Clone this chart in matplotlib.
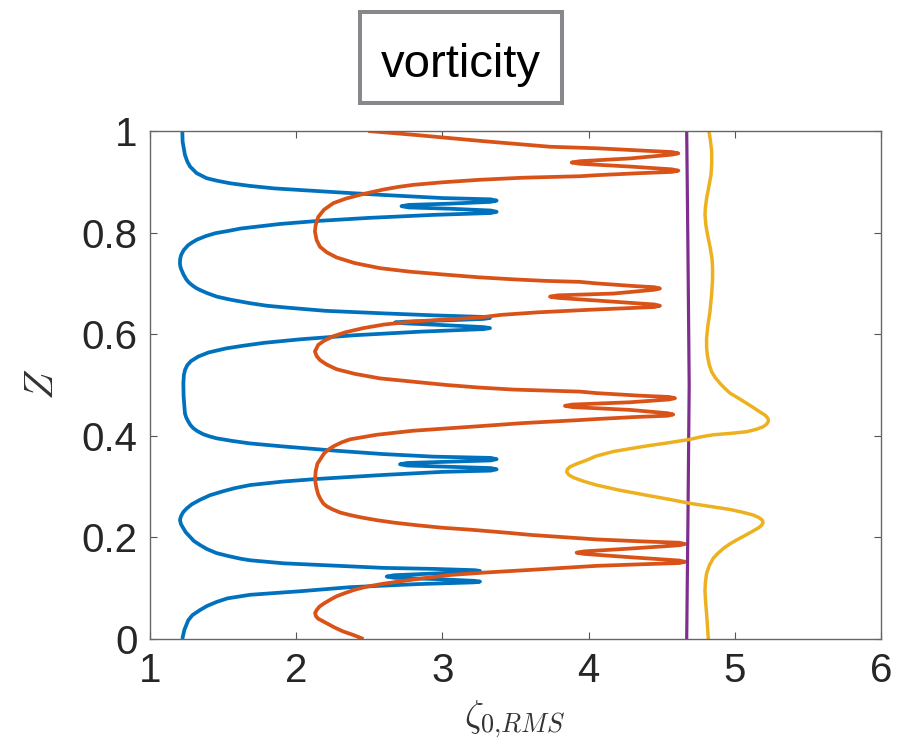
import matplotlib
matplotlib.use("Agg")
import matplotlib.pyplot as plt
from matplotlib.patches import Rectangle

# vertical profiles, (Z, zeta_rms) pairs, top to bottom
blue = [
    (1.000, 1.221), (0.979, 1.223), (0.953, 1.239), (0.940, 1.255), (0.930, 1.274),
    (0.917, 1.319), (0.907, 1.388), (0.902, 1.460), (0.897, 1.550), (0.892, 1.680),
    (0.887, 1.850), (0.879, 2.300), (0.874, 2.600), (0.868, 3.000), (0.8655, 3.330),
    (0.863, 3.371), (0.8605, 3.330), (0.857, 3.050), (0.8545, 2.770), (0.852, 2.720),
    (0.8495, 2.770), (0.847, 3.050), (0.8435, 3.330), (0.841, 3.371), (0.8385, 3.330),
    (0.835, 2.950), (0.829, 2.500), (0.823, 2.150), (0.817, 1.889), (0.812, 1.740),
    (0.808, 1.620), (0.803, 1.530), (0.799, 1.450), (0.793, 1.380), (0.786, 1.320),
    (0.780, 1.285), (0.775, 1.260), (0.770, 1.245), (0.766, 1.232), (0.760, 1.220),
    (0.755, 1.212), (0.749, 1.207), (0.743, 1.205), (0.738, 1.205), (0.733, 1.208),
    (0.728, 1.213), (0.723, 1.221), (0.718, 1.228), (0.713, 1.238), (0.708, 1.248),
    (0.703, 1.262), (0.699, 1.277), (0.695, 1.295), (0.691, 1.315), (0.687, 1.342),
    (0.681, 1.390), (0.674, 1.456), (0.668, 1.550), (0.661, 1.684), (0.656, 1.800),
    (0.652, 1.950), (0.646, 2.200), (0.641, 2.600), (0.637, 2.950), (0.634, 3.280),
    (0.632, 3.326), (0.630, 3.280), (0.627, 3.000), (0.6245, 2.730), (0.623, 2.676),
    (0.6215, 2.730), (0.618, 3.000), (0.614, 3.280), (0.612, 3.326), (0.610, 3.280),
    (0.605, 2.850), (0.598, 2.400), (0.590, 2.030), (0.583, 1.780), (0.577, 1.630),
    (0.572, 1.520), (0.564, 1.400), (0.556, 1.330), (0.547, 1.280), (0.539, 1.255),
    (0.530, 1.240), (0.520, 1.232), (0.503, 1.228), (0.477, 1.230), (0.444, 1.239),
    (0.436, 1.248), (0.428, 1.262), (0.421, 1.277), (0.415, 1.296), (0.409, 1.325),
    (0.403, 1.365), (0.399, 1.405), (0.395, 1.456), (0.390, 1.560), (0.385, 1.684),
    (0.379, 1.912), (0.371, 2.254), (0.364, 2.596), (0.359, 2.938), (0.3565, 3.330),
    (0.354, 3.371), (0.3515, 3.330), (0.349, 3.050), (0.3465, 2.760), (0.344, 2.710),
    (0.3415, 2.760), (0.339, 3.050), (0.3365, 3.330), (0.334, 3.371), (0.3315, 3.330),
    (0.329, 3.000), (0.323, 2.600), (0.315, 2.140), (0.310, 1.912), (0.303, 1.684),
    (0.297, 1.580), (0.291, 1.502), (0.283, 1.410), (0.274, 1.342), (0.265, 1.285),
    (0.257, 1.251), (0.250, 1.228), (0.245, 1.218), (0.240, 1.210), (0.234, 1.205),
    (0.226, 1.212), (0.218, 1.228), (0.210, 1.245), (0.201, 1.274), (0.193, 1.300),
    (0.185, 1.342), (0.177, 1.390), (0.169, 1.456), (0.163, 1.540), (0.158, 1.620),
    (0.155, 1.684), (0.149, 1.912), (0.146, 2.140), (0.140, 2.596), (0.138, 2.938),
    (0.1355, 3.220), (0.134, 3.257), (0.1325, 3.220), (0.129, 2.950), (0.1255, 2.670),
    (0.123, 2.619), (0.1205, 2.670), (0.118, 2.950), (0.1145, 3.220), (0.113, 3.257),
    (0.1115, 3.220), (0.108, 2.824), (0.102, 2.368), (0.094, 2.026), (0.087, 1.684),
    (0.080, 1.530), (0.073, 1.456), (0.065, 1.390), (0.057, 1.342), (0.047, 1.290),
    (0.037, 1.262), (0.018, 1.235), (0.000, 1.221),
]

orange = [
    (1.000, 2.493), (0.992, 2.824), (0.980, 3.280), (0.969, 3.736), (0.966, 4.055),
    (0.961, 4.400), (0.9585, 4.570), (0.956, 4.614), (0.9535, 4.570), (0.946, 4.283),
    (0.9405, 3.940), (0.938, 3.884), (0.9355, 3.940), (0.930, 4.283), (0.9245, 4.570),
    (0.922, 4.614), (0.9195, 4.570), (0.917, 4.350), (0.913, 4.055), (0.911, 3.941),
    (0.908, 3.550), (0.904, 3.257), (0.899, 3.000), (0.894, 2.801), (0.890, 2.700),
    (0.885, 2.600), (0.876, 2.459), (0.867, 2.340), (0.858, 2.254), (0.845, 2.190),
    (0.831, 2.151), (0.815, 2.133), (0.802, 2.128), (0.785, 2.140), (0.772, 2.163),
    (0.761, 2.210), (0.751, 2.277), (0.740, 2.400), (0.730, 2.573), (0.723, 2.780),
    (0.717, 3.029), (0.712, 3.250), (0.708, 3.485), (0.705, 3.700), (0.703, 3.941),
    (0.700, 4.055), (0.695, 4.300), (0.6925, 4.450), (0.690, 4.488), (0.6875, 4.450),
    (0.680, 4.169), (0.6765, 3.790), (0.674, 3.736), (0.6715, 3.790), (0.664, 4.169),
    (0.6585, 4.450), (0.656, 4.488), (0.6535, 4.450), (0.651, 4.250), (0.648, 4.000),
    (0.643, 3.650), (0.638, 3.400), (0.633, 3.257), (0.625, 2.801), (0.619, 2.600),
    (0.612, 2.459), (0.604, 2.340), (0.596, 2.254), (0.587, 2.190), (0.579, 2.151),
    (0.566, 2.128), (0.557, 2.140), (0.549, 2.163), (0.540, 2.210), (0.531, 2.277),
    (0.522, 2.400), (0.513, 2.573), (0.507, 2.780), (0.500, 3.029), (0.495, 3.250),
    (0.491, 3.485), (0.487, 3.941), (0.484, 4.055), (0.479, 4.350), (0.4765, 4.550),
    (0.474, 4.591), (0.4715, 4.550), (0.466, 4.283), (0.4615, 3.890), (0.459, 3.838),
    (0.4565, 3.890), (0.451, 4.283), (0.4445, 4.540), (0.442, 4.579), (0.4395, 4.540),
    (0.437, 4.320), (0.433, 4.055), (0.431, 3.941), (0.425, 3.550), (0.419, 3.257),
    (0.410, 2.801), (0.402, 2.550), (0.393, 2.368), (0.387, 2.310), (0.380, 2.260),
    (0.373, 2.220), (0.365, 2.190), (0.345, 2.145), (0.330, 2.133), (0.313, 2.129),
    (0.298, 2.138), (0.285, 2.150), (0.276, 2.165), (0.267, 2.185), (0.261, 2.210),
    (0.255, 2.250), (0.249, 2.300), (0.244, 2.368), (0.239, 2.450), (0.234, 2.550),
    (0.229, 2.670), (0.224, 2.824), (0.219, 3.000), (0.215, 3.200), (0.209, 3.450),
    (0.205, 3.600), (0.196, 4.055), (0.192, 4.380), (0.1895, 4.620), (0.187, 4.659),
    (0.1845, 4.620), (0.178, 4.283), (0.1725, 3.970), (0.170, 3.918), (0.1675, 3.970),
    (0.161, 4.283), (0.1545, 4.620), (0.152, 4.659), (0.1495, 4.620), (0.147, 4.350),
    (0.144, 4.055), (0.136, 3.599), (0.131, 3.300), (0.126, 3.052), (0.120, 2.880),
    (0.115, 2.750), (0.109, 2.600), (0.103, 2.482), (0.097, 2.400), (0.090, 2.330),
    (0.084, 2.275), (0.077, 2.231), (0.070, 2.190), (0.064, 2.160), (0.057, 2.140),
    (0.051, 2.129), (0.045, 2.135), (0.040, 2.150), (0.031, 2.208), (0.023, 2.260),
    (0.015, 2.320), (0.008, 2.390), (0.000, 2.460),
]

purple = [(1.00, 4.671), (0.75, 4.680), (0.50, 4.688), (0.25, 4.680), (0.00, 4.671)]

yellow = [
    (1.000, 4.823), (0.980, 4.834), (0.959, 4.842), (0.935, 4.842), (0.913, 4.837),
    (0.890, 4.822), (0.867, 4.807), (0.850, 4.799), (0.835, 4.796), (0.815, 4.802),
    (0.795, 4.814), (0.770, 4.832), (0.749, 4.844), (0.730, 4.848), (0.710, 4.848),
    (0.680, 4.842), (0.644, 4.830), (0.615, 4.815), (0.592, 4.807), (0.575, 4.807),
    (0.559, 4.812), (0.540, 4.825), (0.526, 4.842), (0.515, 4.865), (0.503, 4.899),
    (0.494, 4.930), (0.484, 4.967), (0.474, 5.025), (0.464, 5.081), (0.455, 5.130),
    (0.447, 5.172), (0.441, 5.205), (0.436, 5.222), (0.432, 5.230), (0.428, 5.229),
    (0.423, 5.218), (0.418, 5.195), (0.413, 5.150), (0.408, 5.081), (0.405, 4.980),
    (0.402, 4.853), (0.398, 4.770), (0.393, 4.694), (0.386, 4.540), (0.380, 4.397),
    (0.375, 4.290), (0.369, 4.169), (0.360, 4.050), (0.352, 3.987), (0.345, 3.920),
    (0.339, 3.873), (0.334, 3.855), (0.329, 3.850), (0.323, 3.865), (0.318, 3.895),
    (0.311, 3.960), (0.303, 4.055), (0.293, 4.210), (0.283, 4.397), (0.275, 4.550),
    (0.267, 4.694), (0.261, 4.830), (0.255, 4.967), (0.249, 5.060), (0.244, 5.127),
    (0.239, 5.165), (0.234, 5.188), (0.229, 5.193), (0.224, 5.184), (0.218, 5.158),
    (0.211, 5.115), (0.203, 5.065), (0.195, 5.013), (0.187, 4.965), (0.178, 4.921),
    (0.168, 4.882), (0.159, 4.853), (0.145, 4.826), (0.129, 4.807), (0.112, 4.799),
    (0.096, 4.796), (0.075, 4.800), (0.050, 4.807), (0.025, 4.813), (0.000, 4.819),
]

x_ticks = [1, 2, 3, 4, 5, 6]
z_ticks = [0, 0.2, 0.4, 0.6, 0.8, 1]
z_tick_labels = ['0', '0.2', '0.4', '0.6', '0.8', '1']

plt.rcParams['font.family'] = ['Liberation Sans', 'DejaVu Sans']
plt.rcParams['mathtext.fontset'] = 'cm'

W, H = 919, 742
fig = plt.figure(figsize=(W / 100, H / 100), dpi=100)
ax = fig.add_axes([150 / W, 1 - 639 / H, 731 / W, 508 / H])

curves = [
    (blue, '#0072BD', 2.7),
    (orange, '#D95319', 2.7),
    (purple, '#7E2F8E', 2.3),
    (yellow, '#EDB120', 2.5),
]
for pts, col, lw in curves:
    zs, xs = zip(*pts)
    ax.plot(xs, zs, color=col, lw=lw, solid_joinstyle='round', solid_capstyle='butt')

ax.set_xlim(1, 6)
ax.set_ylim(0, 1)
ax.set_xticks(x_ticks)
ax.set_yticks(z_ticks)
ax.set_xticklabels([str(t) for t in x_ticks])
ax.set_yticklabels(z_tick_labels)
ax.tick_params(direction='in', top=True, right=True, length=5, width=0.8,
               color='#555555', labelsize=29, labelcolor='#262626')
ax.tick_params(axis='x', pad=9)
ax.tick_params(axis='y', pad=9)
for s in ax.spines.values():
    s.set_color('#666666')
    s.set_linewidth(1.0)

ax.set_xlabel(r'$\zeta_{0{,}RMS}$', fontsize=27, color='#333333')
ax.set_ylabel(r'$Z$', fontsize=29, color='#333333')
ax.xaxis.set_label_coords(0.498, -0.117)
ax.yaxis.set_label_coords(-0.122, 0.502)

# boxed title
fig.patches.append(Rectangle((360 / W, 1 - 103 / H), 202 / W, 91 / H,
                             transform=fig.transFigure, fill=False,
                             edgecolor='#86888b', lw=2.9))
fig.text(461 / W, 1 - 77 / H, 'vorticity', fontsize=34, color='black',
         ha='center', va='baseline')

fig.savefig('out.png', dpi=100)
